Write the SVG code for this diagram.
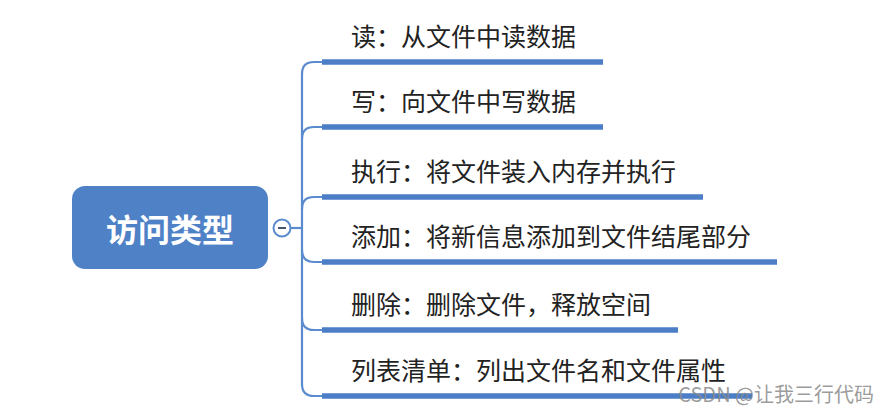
<svg xmlns="http://www.w3.org/2000/svg" width="889" height="414" viewBox="0 0 889 414">
<style>
.lbl{font-family:"Noto Sans CJK SC","Noto Sans",sans-serif;font-size:25px;fill:#222}
.bar{stroke:#4b7ec7;stroke-width:5.5;stroke-linecap:butt;fill:none}
.ln{stroke:#5b8bcf;stroke-width:2.2;fill:none}
</style>
<rect width="889" height="414" fill="#ffffff"/>
<g id="connectors">
<path class="ln" d="M290 228 H302"/>
<path class="ln" d="M302 228 V74 Q302 62 314 62 H324"/>
<path class="ln" d="M302 139 Q302 127 314 127 H324"/>
<path class="ln" d="M302 209 Q302 197 314 197 H324"/>
<path class="ln" d="M302 228 V384 Q302 396 314 396 H324"/>
<path class="ln" d="M302 250 Q302 262 314 262 H324"/>
<path class="ln" d="M302 318 Q302 330 314 330 H324"/>
</g>
<g id="root">
<rect x="72" y="186" width="196" height="83" rx="13" fill="#4f81c7"/>
<text x="170" y="242" text-anchor="middle" font-family="'Noto Sans CJK SC','Noto Sans',sans-serif" font-size="32" font-weight="bold" fill="#ffffff">访问类型</text>
</g>
<g id="collapse">
<circle cx="282" cy="228" r="8.5" fill="#ffffff" stroke="#5b8bcf" stroke-width="2"/>
<path d="M278 228 H286" stroke="#44556e" stroke-width="2"/>
</g>
<g id="n1">
<text class="lbl" x="351" y="46">读：从文件中读数据</text>
<path class="bar" d="M322 62 H603"/>
</g>
<g id="n2">
<text class="lbl" x="351" y="111">写：向文件中写数据</text>
<path class="bar" d="M322 127 H603"/>
</g>
<g id="n3">
<text class="lbl" x="351" y="181">执行：将文件装入内存并执行</text>
<path class="bar" d="M322 197 H703"/>
</g>
<g id="n4">
<text class="lbl" x="351" y="246">添加：将新信息添加到文件结尾部分</text>
<path class="bar" d="M322 262 H777"/>
</g>
<g id="n5">
<text class="lbl" x="351" y="314">删除：删除文件，释放空间</text>
<path class="bar" d="M322 330 H678"/>
</g>
<g id="n6">
<text class="lbl" x="351" y="380">列表清单：列出文件名和文件属性</text>
<path class="bar" d="M322 396 H752"/>
</g>
<text x="874" y="402" text-anchor="end" font-family="'Noto Sans CJK SC','Noto Sans',sans-serif" font-size="20" fill="#8a8a8a" fill-opacity="0.85">CSDN @让我三行代码</text>
</svg>
